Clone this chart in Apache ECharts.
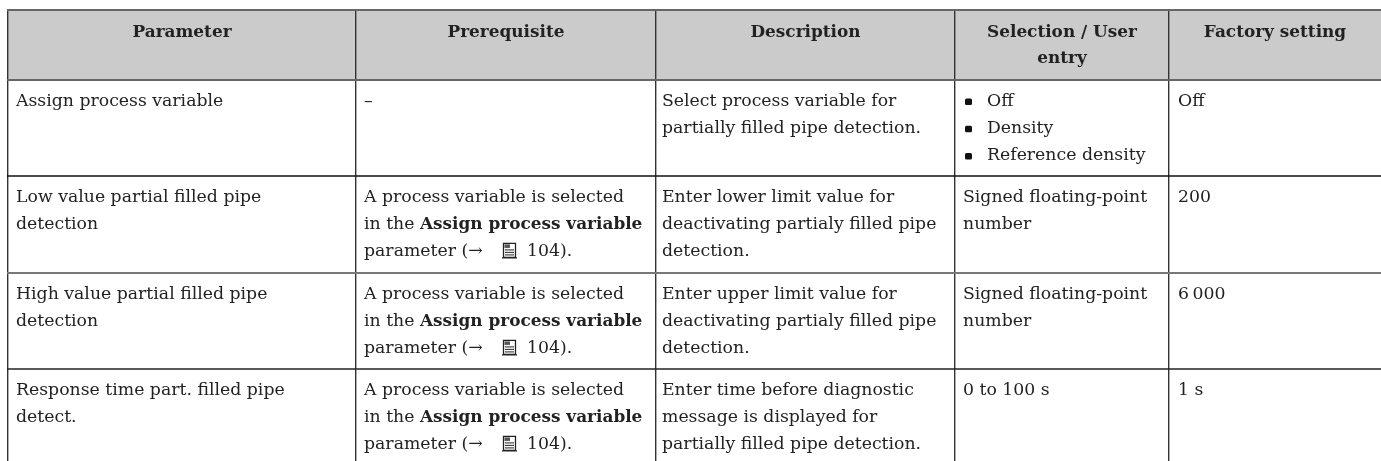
<!DOCTYPE html>
<html><head><meta charset="utf-8">
<style>html,body{margin:0;padding:0;background:#fff}#c{width:1381px;height:461px}</style>
<script src="https://cdn.jsdelivr.net/npm/echarts@6/dist/echarts.min.js"></script>
</head><body><div id="c"></div>
<script>
// ---- table content ----
var headers = [["Parameter"],["Prerequisite"],["Description"],["Selection / User","entry"],["Factory setting"]];
var parameters = [
  ["Assign process variable"],
  ["Low value partial filled pipe","detection"],
  ["High value partial filled pipe","detection"],
  ["Response time part. filled pipe","detect."]
];
var prereqLines = ["A process variable is selected","in the {b|Assign process variable}","parameter (\u2192"];
var prerequisites = [["\u2013"],prereqLines,prereqLines,prereqLines];
var pageRef = "104).";
var descriptions = [
  ["Select process variable for","partially filled pipe detection."],
  ["Enter lower limit value for","deactivating partialy filled pipe","detection."],
  ["Enter upper limit value for","deactivating partialy filled pipe","detection."],
  ["Enter time before diagnostic","message is displayed for","partially filled pipe detection."]
];
var selections = [
  ["Off","Density","Reference density"],
  ["Signed floating-point","number"],
  ["Signed floating-point","number"],
  ["0 to 100 s"]
];
var factory = [["Off"],["200"],["6\u2009000"],["1 s"]];

// ---- layout ----
var colEdges = [8,356,656,955,1169,1381];
var rowEdges = [10,80,176,273,369,470];
var textX = [16,364,662,963,1178];
var bulletTextX = 987, bulletX = 968.5;
var headerLineY = [32.5,58.5];
var firstLineOffset = 21.5, lineStep = 27.2;
var iconX = 502, refX = 527;
var FONT = 'DejaVu Serif', SIZE = 17.3, BOLD = 16.9, INK = '#222';

var texts = [];
function add(x,y,t,align,bold){texts.push([x,y,t,align||'left',bold?1:0]);}
headers.forEach(function(h,c){h.forEach(function(t,i){
  add((colEdges[c]+colEdges[c+1])/2,headerLineY[i],t,'center',true);
});});
var bullets = [], icons = [];
[parameters,prerequisites,descriptions,selections,factory].forEach(function(col,c){
  col.forEach(function(lines,r){lines.forEach(function(t,i){
    var y = rowEdges[r+1]+firstLineOffset+i*lineStep;
    var x = textX[c];
    if(c===3&&r===0){x=bulletTextX;bullets.push([bulletX,y]);}
    add(x,y,t);
    if(t===prereqLines[2]){icons.push([iconX,y]);add(refX,y,pageRef);}
  });});
});
var hLines = [[10,'#666',2],[80,'#666',2],[176,'#111',1.5],[273,'#777',2],[369,'#222',1.5]];

var richB = {b:{fontFamily:FONT,fontSize:BOLD,fontWeight:'bold',fill:INK,color:INK}};
var chart = echarts.init(document.getElementById('c'),null,{renderer:'canvas'});
chart.setOption({
  animation:false,
  grid:{left:0,right:0,top:0,bottom:0},
  xAxis:{type:'value',min:0,max:1381,show:false},
  yAxis:{type:'value',min:0,max:461,inverse:true,show:false},
  series:[
    {type:'custom',coordinateSystem:'cartesian2d',clip:true,silent:true,z:1,data:[[0]],
     renderItem:function(p,api){
      var a=api.coord([colEdges[0],rowEdges[0]]),b=api.coord([1381,rowEdges[1]]);
      return {type:'rect',shape:{x:a[0],y:a[1],width:b[0]-a[0],height:b[1]-a[1]},style:{fill:'#cbcbcb'}};
     }},
    {type:'custom',coordinateSystem:'cartesian2d',clip:true,silent:true,z:2,
     data:colEdges.slice(0,5).map(function(x){return [x];}),
     renderItem:function(p,api){
      var x=api.value(0),a=api.coord([x,rowEdges[0]]),b=api.coord([x,461]);
      return {type:'line',shape:{x1:a[0]-.3,y1:a[1],x2:b[0]-.3,y2:b[1]},style:{stroke:'#333',lineWidth:1.4}};
     }},
    {type:'custom',coordinateSystem:'cartesian2d',clip:true,silent:true,z:3,
     data:hLines,
     renderItem:function(p,api){
      var l=hLines[p.dataIndex],a=api.coord([colEdges[0],l[0]]),b=api.coord([1381,l[0]]);
      return {type:'line',shape:{x1:a[0]-1,y1:a[1],x2:b[0],y2:b[1]},style:{stroke:l[1],lineWidth:l[2]}};
     }},
    {type:'custom',coordinateSystem:'cartesian2d',clip:false,silent:true,z:4,
     data:bullets,
     renderItem:function(p,api){
      var a=api.coord([api.value(0),api.value(1)]);
      return {type:'rect',shape:{x:a[0]-3.5,y:a[1]-3,width:7,height:6.5,r:1.5},style:{fill:'#111'}};
     }},
    {type:'custom',coordinateSystem:'cartesian2d',clip:false,silent:true,z:4,
     data:icons,
     renderItem:function(p,api){
      var a=api.coord([api.value(0),api.value(1)]),x=a[0],y=a[1]-9;
      var kids=[
       {type:'rect',shape:{x:x+1.5,y:y+.5,width:12,height:14},style:{fill:null,stroke:'#222',lineWidth:1.3}},
       {type:'line',shape:{x1:x,y1:y+15,x2:x+15,y2:y+15},style:{stroke:'#222',lineWidth:1.2}},
       {type:'rect',shape:{x:x+2.5,y:y+1.5,width:5.5,height:3.5},style:{fill:'#555'}}
      ];
      [7,9.5,12].forEach(function(d){kids.push({type:'line',shape:{x1:x+3,y1:y+d,x2:x+12,y2:y+d},style:{stroke:'#333',lineWidth:1.1}});});
      return {type:'group',children:kids};
     }},
    {type:'custom',coordinateSystem:'cartesian2d',clip:false,silent:true,z:5,
     data:texts.map(function(t,i){return [t[0],t[1],i];}),
     renderItem:function(p,api){
      var t=texts[p.dataIndex],a=api.coord([t[0],t[1]]);
      return {type:'text',x:a[0],y:a[1],style:{text:t[2],align:t[3],verticalAlign:'middle',
        fontFamily:FONT,fontSize:t[4]?BOLD:SIZE,fontWeight:t[4]?'bold':'normal',fill:INK,rich:richB}};
     }}
  ]
});
</script></body></html>
